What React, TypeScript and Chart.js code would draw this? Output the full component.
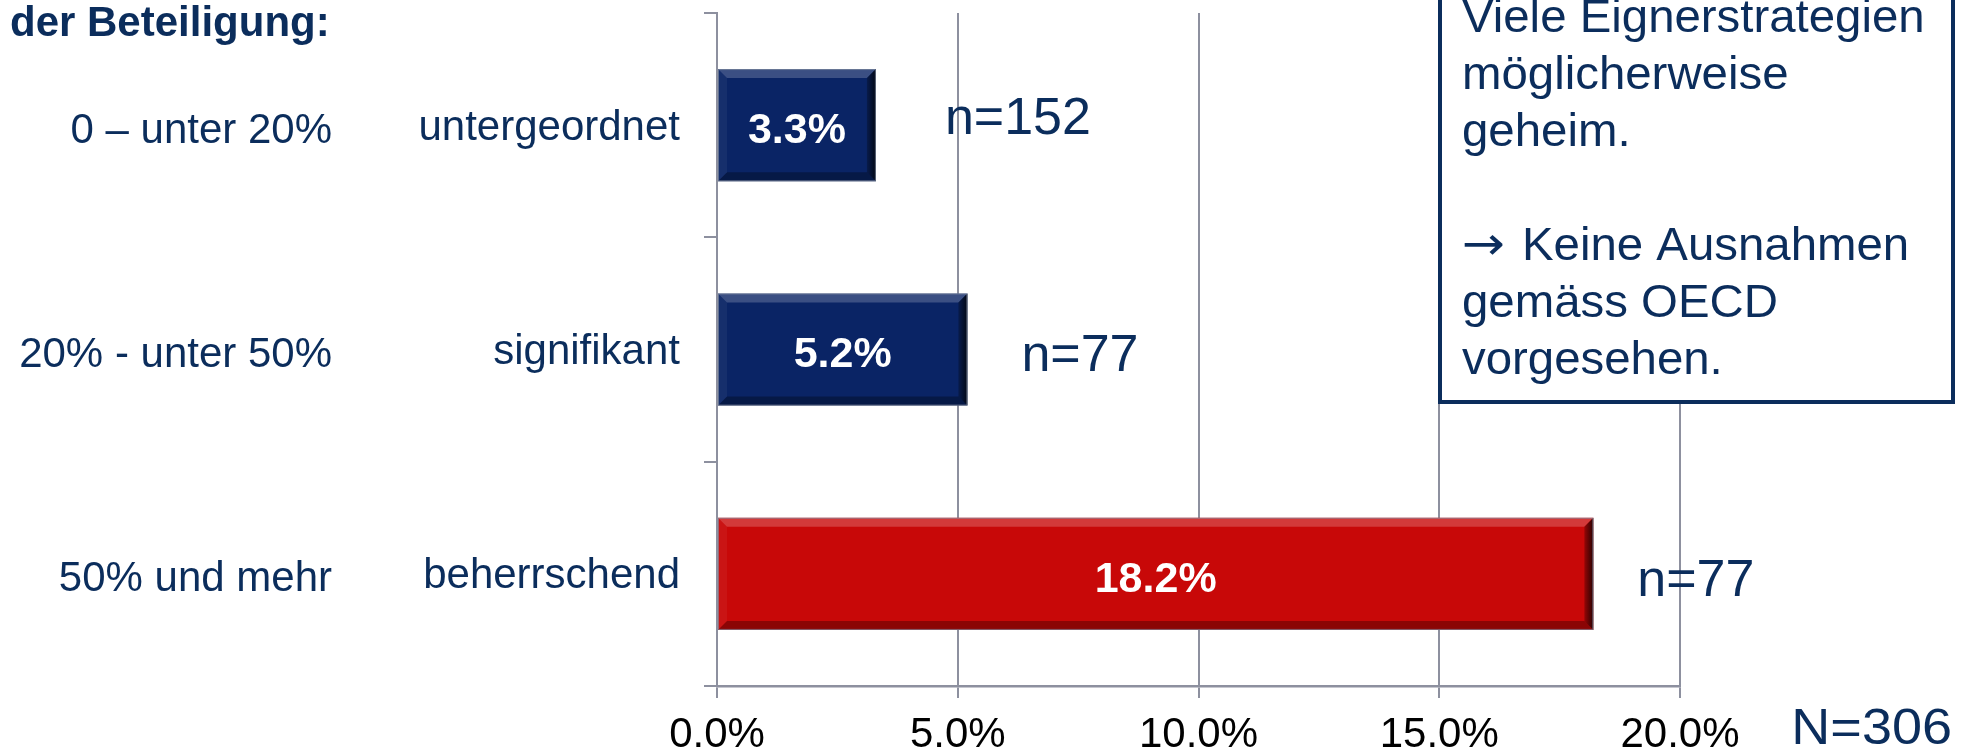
import React, { useEffect, useRef } from "react";
import { Chart, registerables } from "chart.js";

Chart.register(...registerables);

// ---- data ----
const categories = ["untergeordnet", "signifikant", "beherrschend"];
const shareGroups = ["0 – unter 20%", "20% - unter 50%", "50% und mehr"];
const shares = [3.3, 5.2, 18.2];
const sampleSizes = [152, 77, 77];
const xTicks = [0, 5, 10, 15, 20];
const totalN = 306;
const heading = "der Beteiligung:";
const noteLines = [
  "Viele Eignerstrategien",
  "möglicherweise",
  "geheim.",
  "",
  "→ Keine Ausnahmen",
  "gemäss OECD",
  "vorgesehen.",
];

// ---- styling / layout ----
const W = 1966;
const H = 754;
const FONT = '"Liberation Sans", Arial, Helvetica, sans-serif';
const NAVY = "#0b2d5c";
const GRID = "#8d909f";
const barColors = ["#0a2465", "#0a2465", "#c80808"];
// offset of each "n=" label from the end of its bar: [dx, dy]
const nLabelOffset: [number, number][] = [
  [69, -6],
  [54, 7],
  [44, 8],
];
const PLOT_LEFT = 717;
const PLOT_RIGHT = 1680;
const PLOT_TOP = 13;
const PLOT_BOTTOM = 686;
const GROUP_AXIS_WIDTH = 345;

type Pt = [number, number];

function poly(ctx: CanvasRenderingContext2D, pts: Pt[], fill: string | CanvasGradient) {
  ctx.beginPath();
  ctx.moveTo(pts[0][0], pts[0][1]);
  for (let i = 1; i < pts.length; i++) ctx.lineTo(pts[i][0], pts[i][1]);
  ctx.closePath();
  ctx.fillStyle = fill;
  ctx.fill();
}

function stretchedText(
  ctx: CanvasRenderingContext2D,
  text: string,
  x: number,
  y: number,
  sx: number
) {
  ctx.save();
  ctx.translate(x, y);
  ctx.scale(sx, 1);
  ctx.fillText(text, 0, 0);
  ctx.restore();
}

const decorations = {
  id: "decorations",
  afterDatasetsDraw(chart: any) {
    const ctx: CanvasRenderingContext2D = chart.ctx;
    const meta = chart.getDatasetMeta(0);
    meta.data.forEach((bar: any, i: number) => {
      const { x, y, base, height } = bar.getProps(["x", "y", "base", "height"], true);
      const l = Math.min(x, base);
      const r = Math.max(x, base);
      const t = y - height / 2;
      const b = y + height / 2;
      const e = 9;
      ctx.save();
      // bevelled edges
      poly(ctx, [[l, t], [r, t], [r - e, t + e], [l + e, t + e]], "rgba(255,255,255,0.2)");
      poly(ctx, [[l, b], [r, b], [r - e, b - e], [l + e, b - e]], "rgba(0,0,0,0.3)");
      const g = ctx.createLinearGradient(r - e, 0, r, 0);
      g.addColorStop(0, "rgba(0,0,0,0.25)");
      g.addColorStop(1, "rgba(0,0,0,0.8)");
      poly(ctx, [[r, t], [r, b], [r - e, b - e], [r - e, t + e]], g);
      poly(ctx, [[l, t], [l, b], [l + e, b - e], [l + e, t + e]], "rgba(255,255,255,0.05)");
      ctx.strokeStyle = "rgba(130,140,160,0.7)";
      ctx.lineWidth = 1;
      ctx.strokeRect(l + 0.5, t + 0.5, r - l - 1, b - t - 1);

      // value inside the bar
      ctx.fillStyle = "#ffffff";
      ctx.font = `bold 43px ${FONT}`;
      ctx.textAlign = "center";
      ctx.textBaseline = "middle";
      ctx.fillText(`${shares[i].toFixed(1)}%`, (l + r) / 2, y + 6);

      // sample size next to the bar
      ctx.fillStyle = NAVY;
      ctx.font = `52px ${FONT}`;
      ctx.textAlign = "left";
      const [dx, dy] = nLabelOffset[i];
      ctx.fillText(`n=${sampleSizes[i]}`, r + dx, y + dy);
      ctx.restore();
    });
  },
  afterDraw(chart: any) {
    const ctx: CanvasRenderingContext2D = chart.ctx;
    ctx.save();

    // heading of the share column
    ctx.fillStyle = NAVY;
    ctx.font = `bold 42px ${FONT}`;
    ctx.textAlign = "left";
    ctx.textBaseline = "alphabetic";
    ctx.fillText(heading, 10, 36);

    // note box
    const bx0 = 1440;
    const bx1 = 1953;
    const by1 = 402;
    ctx.fillStyle = "#ffffff";
    ctx.fillRect(bx0, -20, bx1 - bx0, by1 + 20);
    ctx.strokeStyle = NAVY;
    ctx.lineWidth = 4;
    ctx.strokeRect(bx0, -20, bx1 - bx0, by1 + 20);
    ctx.fillStyle = NAVY;
    const tx = 1462;
    const sx = 1.03;
    noteLines.forEach((line, i) => {
      if (!line) return;
      const by = 32 + i * 57;
      if (line.startsWith("→")) {
        // arrow glyph in a face that draws it long and open
        ctx.font = `46px "DejaVu Sans", ${FONT}`;
        stretchedText(ctx, "→", tx, by - 1, 1.12);
        ctx.font = `46px ${FONT}`;
        stretchedText(ctx, line.slice(1).trim(), 1522, by, sx);
      } else {
        ctx.font = `46px ${FONT}`;
        stretchedText(ctx, line, tx, by, sx);
      }
    });

    // total sample size
    ctx.font = `50px ${FONT}`;
    ctx.textAlign = "right";
    stretchedText(ctx, `N=${totalN}`, 1952, 744, 1.08);
    ctx.restore();
  },
};

export default function App() {
  const canvasRef = useRef<HTMLCanvasElement | null>(null);

  useEffect(() => {
    const canvas = canvasRef.current;
    if (!canvas) return;
    const chart = new Chart(canvas, {
      type: "bar",
      data: {
        labels: categories,
        datasets: [
          {
            data: shares,
            backgroundColor: barColors,
            borderWidth: 0,
            barPercentage: 0.5,
            categoryPercentage: 1,
          },
        ],
      },
      options: {
        indexAxis: "y",
        responsive: false,
        animation: false,
        devicePixelRatio: 1,
        layout: {
          padding: { top: PLOT_TOP, right: W - PLOT_RIGHT, bottom: 0, left: 0 },
        },
        plugins: {
          legend: { display: false },
          tooltip: { enabled: false },
        },
        scales: {
          x: {
            type: "linear",
            position: "bottom",
            min: xTicks[0],
            max: xTicks[xTicks.length - 1],
            afterBuildTicks: (s: any) => {
              s.ticks = xTicks.map((v) => ({ value: v }));
            },
            ticks: {
              color: "#000000",
              font: { family: FONT, size: 42 },
              padding: 12,
              maxRotation: 0,
              autoSkip: false,
              callback: (v: any) => `${Number(v).toFixed(1)}%`,
            },
            grid: {
              color: GRID,
              lineWidth: 2,
              drawTicks: true,
              tickLength: 12,
            },
            border: { color: GRID, width: 2.5 },
            afterFit: (s: any) => {
              s.height = H - PLOT_BOTTOM;
              s.paddingLeft = 0;
              s.paddingRight = 0;
            },
          },
          y: {
            type: "category",
            position: "left",
            weight: 0,
            offset: true,
            ticks: {
              color: NAVY,
              font: { family: FONT, size: 42 },
              padding: 24,
              labelOffset: 3,
            },
            grid: {
              offset: true,
              drawOnChartArea: false,
              drawTicks: true,
              tickLength: 13,
              color: GRID,
              lineWidth: 2,
            },
            border: { color: GRID, width: 2 },
            afterFit: (s: any) => {
              s.width = PLOT_LEFT - GROUP_AXIS_WIDTH;
              s.paddingTop = 0;
              s.paddingBottom = 0;
            },
          },
          y2: {
            type: "category",
            axis: "y",
            labels: shareGroups,
            position: "left",
            weight: 1,
            offset: true,
            ticks: {
              color: NAVY,
              font: { family: FONT, size: 42 },
              padding: 13,
              labelOffset: 6,
            },
            grid: { display: false, drawTicks: false, tickLength: 0, offset: true },
            border: { display: false },
            afterFit: (s: any) => {
              s.width = GROUP_AXIS_WIDTH;
              s.paddingTop = 0;
              s.paddingBottom = 0;
            },
          },
        },
      } as any,
      plugins: [decorations],
    });
    return () => chart.destroy();
  }, []);

  return (
    <div style={{ position: "fixed", left: 0, top: 0, width: W, height: H, background: "#ffffff" }}>
      <canvas ref={canvasRef} width={W} height={H} style={{ display: "block", width: W, height: H }} />
    </div>
  );
}
